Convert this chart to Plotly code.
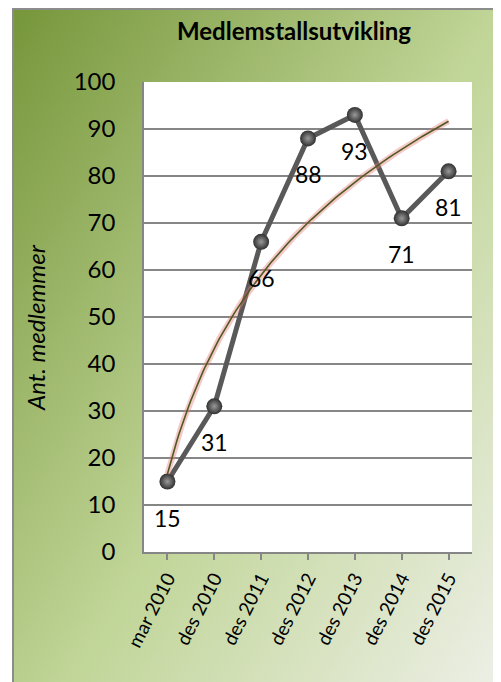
import base64
import numpy as np
import plotly.graph_objects as go

# data
perioder = ["mar 2010", "des 2010", "des 2011", "des 2012", "des 2013", "des 2014", "des 2015"]
medlemmer = [15, 31, 66, 88, 93, 71, 81]
y_ticks = list(range(0, 101, 10))

pos = np.arange(len(perioder))

# logaritmisk trendlinje (som i Excel)
b, a = np.polyfit(np.log(pos + 1), medlemmer, 1)
x_trend = np.linspace(0, len(perioder) - 1, 120)
y_trend = a + b * np.log(x_trend + 1)

# siden har 8px body-marg, så figuren flyttes tilsvarende
OFF = 8
W, H = 501 - OFF, 682 - OFF
L, R, T, B = 144 - OFF, 29, 82 - OFF, 130
pw, ph = W - L - R, H - T - B


def px_x(p):
    return (p - OFF - L) / pw


def px_y(p):
    return (H - B - (p - OFF)) / ph


# diagonal gradient bakgrunn som svg
svg = """<svg xmlns='http://www.w3.org/2000/svg' width='500' height='700' preserveAspectRatio='none'>
<defs><linearGradient id='g' x1='0' y1='0' x2='1' y2='1'>
<stop offset='0' stop-color='#76963a'/>
<stop offset='0.5' stop-color='#c0d597'/>
<stop offset='1' stop-color='#f2f2ef'/>
</linearGradient></defs>
<rect width='500' height='700' fill='url(#g)'/></svg>"""
bg_src = "data:image/svg+xml;base64," + base64.b64encode(svg.encode()).decode()

fig = go.Figure()

fig.add_trace(go.Scatter(
    x=pos, y=medlemmer,
    mode="lines+markers",
    line=dict(color="#595959", width=5),
    marker=dict(size=16, color="#303030",
                gradient=dict(type="radial", color="#9a9a9a"),
                line=dict(width=0)),
    showlegend=False, hoverinfo="skip",
))

# glød + trendlinje
fig.add_trace(go.Scatter(
    x=x_trend, y=y_trend, mode="lines",
    line=dict(color="rgba(230,120,120,0.4)", width=6),
    showlegend=False, hoverinfo="skip",
))
fig.add_trace(go.Scatter(
    x=x_trend, y=y_trend, mode="lines",
    line=dict(color="#4f5a1e", width=1.6),
    showlegend=False, hoverinfo="skip",
))

for i, v in enumerate(medlemmer):
    fig.add_annotation(x=pos[i], y=v, text=str(v), showarrow=False,
                       yshift=-36, font=dict(family="Lato", size=23, color="black"))

fig.add_annotation(x=px_x(35), y=px_y(328), xref="paper", yref="paper",
                   xanchor="center", yanchor="middle",
                   text="<i>Ant. medlemmer</i>", textangle=-90, showarrow=False,
                   font=dict(family="Lato", size=24, color="black"))

fig.add_layout_image(dict(
    source=bg_src, xref="paper", yref="paper",
    x=px_x(13), y=px_y(9), sizex=px_x(499) - px_x(13), sizey=px_y(9) - px_y(760),
    xanchor="left", yanchor="top", sizing="stretch", layer="below",
))
# hvit plotflate over gradienten
fig.add_shape(type="rect", xref="paper", yref="paper", x0=0, x1=1, y0=0, y1=1,
              fillcolor="white", line=dict(width=0), layer="below")
# ramme
fig.add_shape(type="rect", xref="paper", yref="paper",
              x0=px_x(13), x1=px_x(499), y0=px_y(760), y1=px_y(9),
              line=dict(color="#8c8c8c", width=2), layer="below")

fig.update_layout(
    width=W, height=H,
    margin=dict(l=L, r=R, t=T, b=B),
    paper_bgcolor="white", plot_bgcolor="white",
    title=dict(text="<b>Medlemstallsutvikling</b>", x=(294 - OFF) / W, y=1 - (32 - OFF) / H,
               xanchor="center", yanchor="middle",
               font=dict(family="Lato", size=24, color="black")),
    font=dict(family="Lato", color="black"),
)

fig.update_xaxes(
    range=[-0.5, len(perioder) - 0.5],
    tickvals=pos, ticktext=perioder, tickangle=-63,
    ticks="outside", ticklen=6, tickcolor="#868686", tickwidth=1.5,
    showline=True, linecolor="#868686", linewidth=1.5,
    showgrid=False, zeroline=False,
    tickfont=dict(family="Lato", size=19, color="black"),
)
fig.update_yaxes(
    range=[0, 100], tickvals=y_ticks,
    showgrid=True, gridcolor="#868686", gridwidth=1.5,
    showline=True, linecolor="#868686", linewidth=1.5,
    zeroline=False, ticks="", ticklabelstandoff=22,
    tickfont=dict(family="Lato", size=24, color="black"),
)

fig.write_html("out.html")
